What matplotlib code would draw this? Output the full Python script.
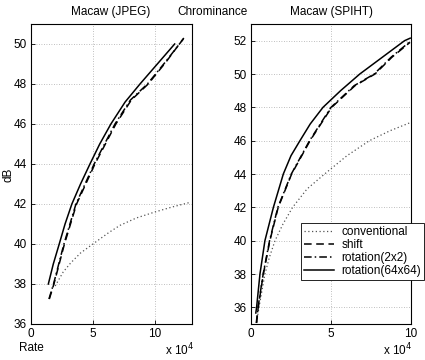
import matplotlib
matplotlib.use("Agg")
import matplotlib.pyplot as plt

plt.rcParams['font.family'] = ['Liberation Sans', 'DejaVu Sans']
plt.rcParams['font.size'] = 8.5

# Macaw (JPEG) -- rate in units of 1e4
jpeg_conv_x = [1.95, 2.6, 3.2, 4.0, 5.0, 5.56, 6.3, 7.18, 8.5, 10.0, 11.4, 12.77]
jpeg_conv_y = [37.9, 38.6, 39.05, 39.55, 40.0, 40.25, 40.58, 40.93, 41.3, 41.6, 41.85, 42.07]
jpeg_shift_x = [1.48, 1.85, 2.7, 3.68, 5.16, 6.85, 8.1, 9.46, 10.9, 12.34]
jpeg_shift_y = [37.25, 38.0, 40.0, 42.0, 44.0, 46.0, 47.2, 48.0, 49.1, 50.3]
jpeg_rot2_x = [1.45, 1.82, 2.66, 3.63, 5.1, 6.78, 8.03, 9.4, 10.85, 12.3]
jpeg_rot2_y = [37.25, 38.0, 40.0, 42.0, 44.0, 46.0, 47.2, 48.0, 49.1, 50.25]
jpeg_rot64_x = [1.4, 1.8, 2.28, 2.75, 3.3, 4.0, 4.76, 5.55, 6.45, 7.6, 8.8, 10.2, 11.6]
jpeg_rot64_y = [38.0, 39.0, 40.0, 41.0, 42.0, 43.0, 44.0, 45.0, 46.0, 47.1, 48.0, 49.0, 50.0]

# Macaw (SPIHT)
spiht_conv_x = [0.35, 0.5, 0.87, 1.15, 1.5, 2.0, 2.6, 3.5, 4.6, 6.0, 7.4, 8.7, 10.0]
spiht_conv_y = [35.1, 36.0, 38.0, 39.0, 40.0, 41.0, 42.0, 43.1, 44.0, 45.1, 46.0, 46.6, 47.1]
spiht_shift_x = [0.35, 0.45, 0.77, 1.18, 1.7, 2.54, 3.69, 5.04, 6.5, 7.75, 8.8, 9.94]
spiht_shift_y = [35.06, 36.0, 38.0, 40.0, 42.0, 44.0, 46.0, 48.0, 49.3, 50.0, 51.0, 51.9]
spiht_rot2_x = [0.33, 0.44, 0.76, 1.16, 1.68, 2.52, 3.66, 5.0, 6.45, 7.7, 8.75, 9.94]
spiht_rot2_y = [35.06, 36.0, 38.0, 40.0, 42.0, 44.0, 46.0, 48.0, 49.3, 50.0, 51.0, 51.95]
spiht_rot64_x = [0.3, 0.35, 0.56, 0.87, 1.4, 2.02, 2.5, 3.06, 3.7, 4.5, 5.6, 6.8, 8.2, 9.6, 9.95]
spiht_rot64_y = [35.66, 36.0, 38.0, 40.0, 42.0, 44.0, 45.1, 46.0, 47.0, 48.0, 49.0, 50.0, 51.0, 52.0, 52.15]

labels = ["conventional", "shift", "rotation(2x2)", "rotation(64x64)"]

fig = plt.figure(figsize=(4.25, 3.6), dpi=100)
W, H = 425, 360
ax1 = fig.add_axes([31 / W, 1 - 324 / H, 161 / W, 300 / H])
ax2 = fig.add_axes([251 / W, 1 - 324 / H, 160 / W, 300 / H])

def draw(ax, d):
    ax.plot(d[0], d[1], color='#555555', linestyle=(0, (1, 2)), lw=0.9, label=labels[0])
    ax.plot(d[2], d[3], color='black', linestyle=(0, (5, 3)), lw=1.1, label=labels[1])
    ax.plot(d[4], d[5], color='black', linestyle=(0, (5, 2, 1, 2)), lw=1.1, label=labels[2])
    ax.plot(d[6], d[7], color='black', linestyle='-', lw=1.1, label=labels[3])
    ax.grid(True, color='#aaaaaa', linestyle=(0, (1, 2)), lw=0.6)
    ax.tick_params(direction='in', length=3, width=0.6, pad=3)
    for s in ax.spines.values():
        s.set_linewidth(0.8)

draw(ax1, [jpeg_conv_x, jpeg_conv_y, jpeg_shift_x, jpeg_shift_y,
           jpeg_rot2_x, jpeg_rot2_y, jpeg_rot64_x, jpeg_rot64_y])
ax1.set_xlim(0, 13)
ax1.set_ylim(36, 51)
ax1.set_xticks([0, 5, 10])
ax1.set_yticks(range(36, 51, 2))

draw(ax2, [spiht_conv_x, spiht_conv_y, spiht_shift_x, spiht_shift_y,
           spiht_rot2_x, spiht_rot2_y, spiht_rot64_x, spiht_rot64_y])
ax2.set_xlim(0, 10)
ax2.set_ylim(35, 53)
ax2.set_xticks([0, 5, 10])
ax2.set_yticks(range(36, 53, 2))

leg = ax2.legend(loc='upper left', bbox_to_anchor=(0.31, 0.337), frameon=True,
                 fancybox=False, edgecolor='black', framealpha=1,
                 handlelength=2.6, borderpad=0.25, labelspacing=0.1,
                 handletextpad=0.6, borderaxespad=0)
leg.get_frame().set_linewidth(0.6)

fig.text(111 / W, 1 - 12 / H, "Macaw (JPEG)", ha='center', va='center')
fig.text(212 / W, 1 - 12 / H, "Chrominance", ha='center', va='center')
fig.text(331 / W, 1 - 12 / H, "Macaw (SPIHT)", ha='center', va='center')
fig.text(9 / W, 1 - 175 / H, "dB", rotation=90, ha='center', va='center')
fig.text(31 / W, 1 - 348 / H, "Rate", ha='center', va='center')
fig.text(180 / W, 1 - 350 / H, "x 10$^4$", ha='center', va='center')
fig.text(398 / W, 1 - 350 / H, "x 10$^4$", ha='center', va='center')

fig.savefig("out.png", dpi=100)
